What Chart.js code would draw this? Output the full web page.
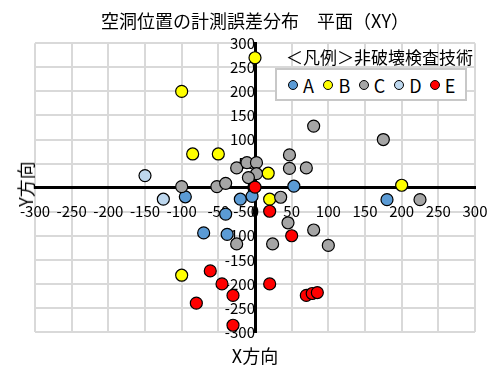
<!DOCTYPE html>
<html lang="ja">
<head>
<meta charset="utf-8">
<script src="https://cdn.jsdelivr.net/npm/chart.js@4.4.1/dist/chart.umd.min.js"></script>
<style>
  html, body { margin: 0; padding: 0; background: #fff; }
  body { font-family: "Noto Sans CJK JP", "Noto Sans", sans-serif; color: #000; }
  .wrap { position: relative; width: 488px; height: 365px; }
  canvas { display: block; }
  .legend-title { position: absolute; left: 286px; top: 47px; font-size: 17px; line-height: 20px; white-space: nowrap; }
  .legend {
    position: absolute; left: 275px; top: 68px; width: 192px; height: 33px;
    box-sizing: border-box; border: 2px solid #c8c8c8; background: #fff;
    display: flex; align-items: center; padding-left: 11px;
  }
  .legend .item { width: 37.5px; display: flex; align-items: center; font-size: 18px; line-height: 20px; }
  .legend .dot { width: 8px; height: 8px; border-radius: 50%; border: 1px solid #000; margin-right: 5px; flex: none; }
  .axis-title { position: absolute; font-size: 18px; line-height: 20px; white-space: nowrap; transform: translate(-50%, -50%); }
  .axis-title.y { transform: translate(-50%, -50%) rotate(-90deg); }
</style>
</head>
<body>
<div class="wrap">
  <canvas id="chart" width="488" height="365"></canvas>
  <div class="legend-title">＜凡例＞非破壊検査技術</div>
  <div class="legend" id="legend"></div>
  <div class="axis-title" style="left:255px; top:355px;">X方向</div>
  <div class="axis-title y" style="left:25px; top:184px;">Y方向</div>
</div>
<script>
// 計測誤差 [x, y]
const seriesNames = ['A', 'B', 'C', 'D', 'E'];
const seriesColors = ['#5b9bd5', '#ffff00', '#a5a5a5', '#bdd7ee', '#ff0000'];

const errA = [[53, 3], [180, -25], [-95, -19], [-20, -24], [-4, -18], [-40, -55], [-70, -94], [-38, -97]];
const errB = [[0, 270], [-100, 200], [-85, 70], [-50, 70], [18, 30], [200, 5], [20, -24], [-100, -182]];
const errC = [[80, 128], [175, 100], [47, 68], [47, 40], [70, 41], [-100, 2], [-52, 2], [-40, 9],
              [-25, 41], [-11, 52], [2, 52], [2, 29], [-9, 21], [35, -20], [225, -25], [45, -73],
              [80, -88], [24, -117], [100, -120], [-25, -117]];
const errD = [[-150, 25], [-125, -24]];
const errE = [[0, 1], [20, -49], [50, -100], [20, -200], [70, -224], [78, -220], [85, -218],
              [-61, -173], [-45, -200], [-30, -224], [-80, -240], [-30, -286]];

const xTickValues = [-300, -250, -200, -150, -100, -50, 0, 50, 100, 150, 200, 250, 300];
const yTickValues = [-300, -250, -200, -150, -100, -50, 0, 50, 100, 150, 200, 250, 300];

const allSeries = [errA, errB, errC, errD, errE];

const datasets = allSeries.map((pts, i) => ({
    label: seriesNames[i],
    data: pts.map(p => ({ x: p[0], y: p[1] })),
    backgroundColor: seriesColors[i],
    borderColor: '#000',
    borderWidth: 1.2,
    pointRadius: 6,
    pointHoverRadius: 6,
    order: allSeries.length - i // E が一番上
}));

// 凡例は図の中に置くのでHTMLで作る
const legendEl = document.getElementById('legend');
seriesNames.forEach((name, i) => {
    const item = document.createElement('div');
    item.className = 'item';
    item.innerHTML = `<span class="dot" style="background:${seriesColors[i]}"></span><span>${name}</span>`;
    legendEl.appendChild(item);
});

const tickFont = { family: '"Noto Sans CJK JP", "Noto Sans", sans-serif', size: 15 };
const borderStyle = { color: '#000', width: 3 };

new Chart(document.getElementById('chart').getContext('2d'), {
    type: 'scatter',
    data: { datasets },
    options: {
        responsive: false,
        animation: false,
        layout: { padding: { left: 35, right: 13, top: 8, bottom: 33 } },
        plugins: {
            legend: { display: false },
            tooltip: { enabled: false },
            title: {
                display: true,
                fullSize: false,
                text: '空洞位置の計測誤差分布　平面（XY）',
                color: '#000',
                font: { family: '"Noto Sans CJK JP", sans-serif', size: 18, weight: 'normal' },
                padding: { top: 2, bottom: 11.7 }
            }
        },
        scales: {
            x: {
                type: 'linear',
                position: { y: 0 },
                min: -300, max: 300,
                afterBuildTicks: (axis) => { axis.ticks = xTickValues.map(v => ({ value: v })); },
                // 目盛り線は見せずにラベルだけ下げる (padding は右端の余白に効くので0)
                ticks: { color: '#000', font: tickFont, padding: 0, maxRotation: 0, autoSkip: false },
                grid: { color: '#d9d9d9', lineWidth: 2, drawTicks: true, tickLength: 15, tickColor: 'rgba(0,0,0,0)' },
                border: borderStyle
            },
            y: {
                type: 'linear',
                position: { x: 0 },
                min: -300, max: 300,
                afterBuildTicks: (axis) => { axis.ticks = yTickValues.map(v => ({ value: v })); },
                ticks: { color: '#000', font: tickFont, padding: 15, autoSkip: false },
                grid: { color: '#d9d9d9', lineWidth: 2, drawTicks: false },
                border: borderStyle
            }
        }
    }
});
</script>
</body>
</html>
